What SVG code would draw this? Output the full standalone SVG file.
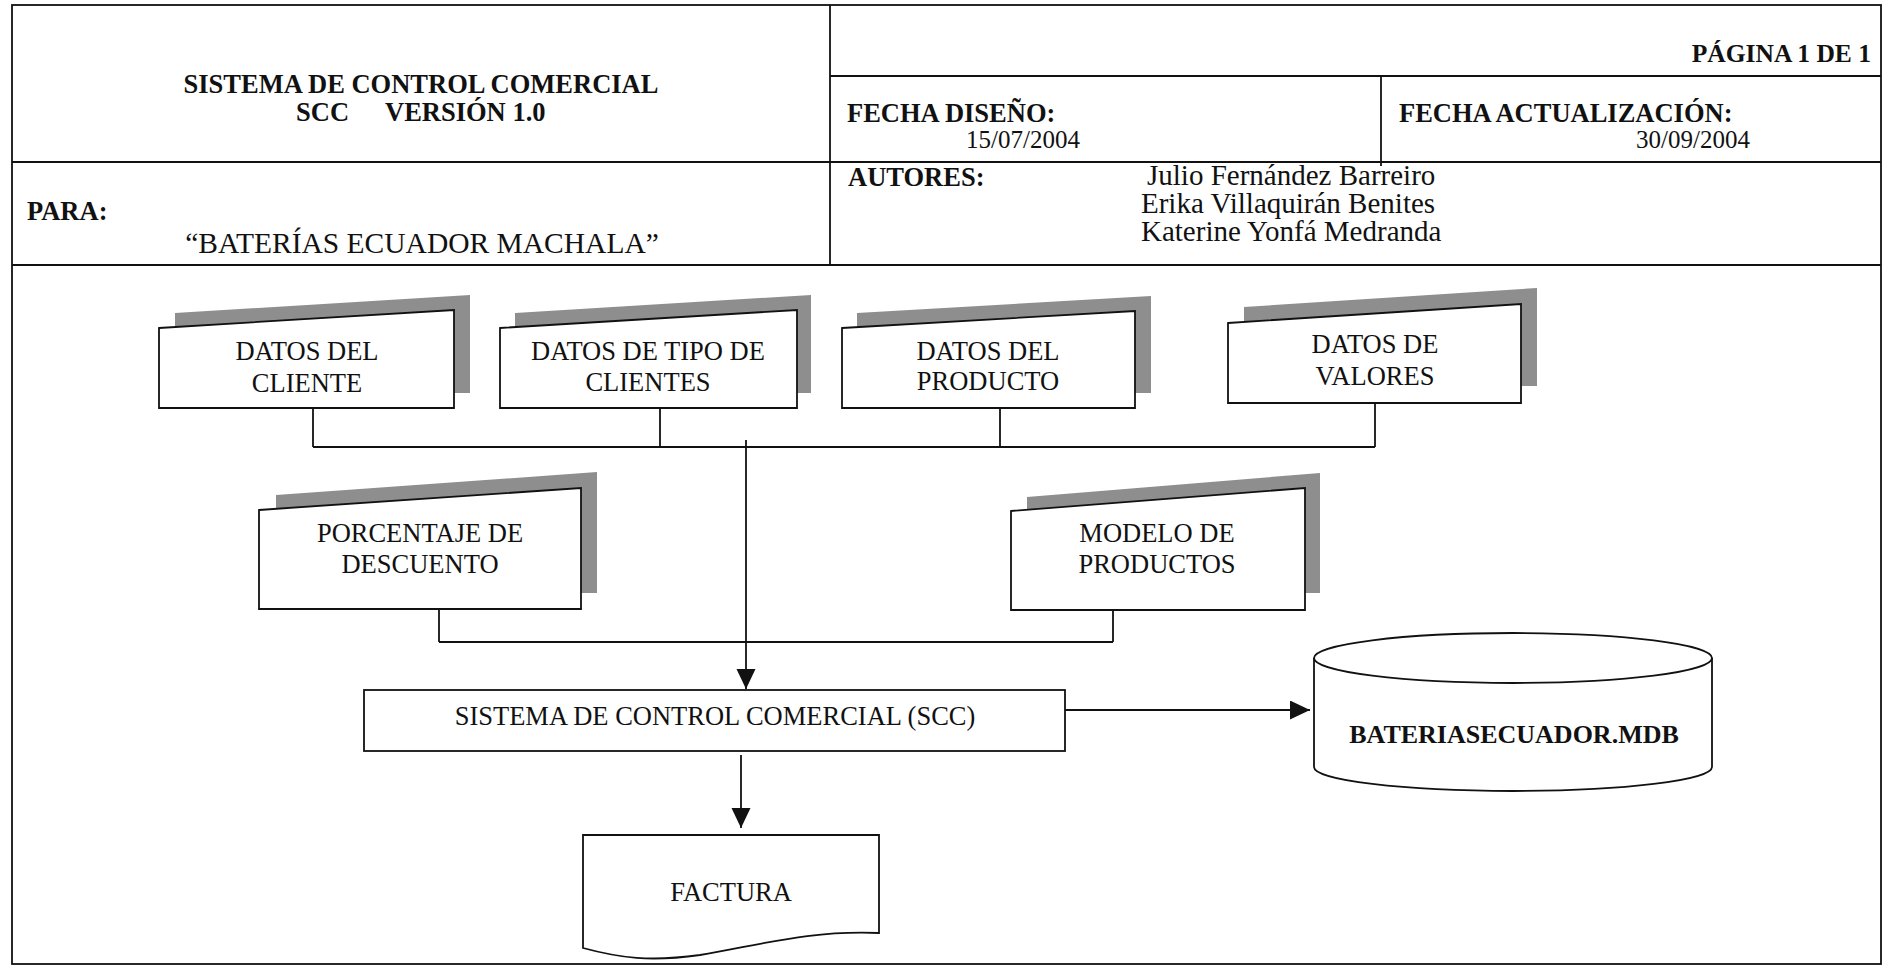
<svg xmlns="http://www.w3.org/2000/svg" width="1888" height="969" viewBox="0 0 1888 969">
<defs>
<style>
.ln{stroke:#111;stroke-width:1.8;fill:none}
.hb{font-family:"Liberation Serif","Times New Roman",serif;font-weight:bold;font-size:26.5px;fill:#111}
.hr{font-family:"Liberation Serif","Times New Roman",serif;font-size:25px;fill:#111}
.au{font-family:"Liberation Serif","Times New Roman",serif;font-size:29px;fill:#111}
.lb{font-family:"Liberation Serif","Times New Roman",serif;font-size:26.5px;fill:#111;text-anchor:middle}
.box{fill:#fff;stroke:#111;stroke-width:1.8}
.sh{fill:#8e8e8e;stroke:none}
.cn{stroke:#111;stroke-width:1.8;fill:none}
</style>
<marker id="arr" markerUnits="userSpaceOnUse" markerWidth="21" markerHeight="20" refX="20" refY="9.5" orient="auto">
<path d="M0,0 L20,9.5 L0,19 Z" fill="#111"/>
</marker>
</defs>
<rect width="1888" height="969" fill="#fff"/>
<g id="header">
<rect class="ln" x="12" y="5" width="1869" height="959"/>
<line class="ln" x1="830" y1="5" x2="830" y2="265"/>
<line class="ln" x1="830" y1="76" x2="1881" y2="76"/>
<line class="ln" x1="1381" y1="76" x2="1381" y2="166"/>
<line class="ln" x1="12" y1="162" x2="1881" y2="162"/>
<line class="ln" x1="12" y1="265" x2="1881" y2="265"/>
<text class="hb" x="421" y="93" text-anchor="middle">SISTEMA DE CONTROL COMERCIAL</text>
<text class="hb" y="121"><tspan x="296">SCC</tspan><tspan x="385">VERSIÓN 1.0</tspan></text>
<text class="hb" x="1871" y="62" text-anchor="end" style="font-size:25.5px">PÁGINA 1 DE 1</text>
<text class="hb" x="847" y="122">FECHA DISEÑO:</text>
<text class="hr" x="966" y="148">15/07/2004</text>
<text class="hb" x="1399" y="122">FECHA ACTUALIZACIÓN:</text>
<text class="hr" x="1636" y="148">30/09/2004</text>
<text class="hb" x="27" y="220">PARA:</text>
<text class="au" x="422" y="253" text-anchor="middle" style="font-size:29.5px">“BATERÍAS ECUADOR MACHALA”</text>
<text class="hb" x="848" y="186">AUTORES:</text>
<text class="au" x="1147" y="185">Julio Fernández Barreiro</text>
<text class="au" x="1141" y="213">Erika Villaquirán Benites</text>
<text class="au" x="1141" y="241">Katerine Yonfá Medranda</text>
</g>
<g id="connectors">
<line class="cn" x1="313" y1="408" x2="313" y2="447"/>
<line class="cn" x1="660" y1="408" x2="660" y2="447"/>
<line class="cn" x1="1000" y1="408" x2="1000" y2="447"/>
<line class="cn" x1="1375" y1="403" x2="1375" y2="447"/>
<line class="cn" x1="313" y1="447" x2="1375" y2="447"/>
<line class="cn" x1="746" y1="440" x2="746" y2="689" marker-end="url(#arr)"/>
<line class="cn" x1="439" y1="609" x2="439" y2="642"/>
<line class="cn" x1="1113" y1="610" x2="1113" y2="642"/>
<line class="cn" x1="439" y1="642" x2="1113" y2="642"/>
<line class="cn" x1="741" y1="755" x2="741" y2="828" marker-end="url(#arr)"/>
<line class="cn" x1="1062" y1="710" x2="1310" y2="710" marker-end="url(#arr)"/>
</g>
<g id="datos-cliente">
<polygon class="sh" points="175,313 470,295 470,393 175,393"/>
<polygon class="box" points="159,328 454,310 454,408 159,408"/>
<text class="lb" x="307" y="360">DATOS DEL</text>
<text class="lb" x="307" y="392">CLIENTE</text>
</g>
<g id="datos-tipo-clientes">
<polygon class="sh" points="515,313 811,295 811,393 515,393"/>
<polygon class="box" points="500,328 797,310 797,408 500,408"/>
<text class="lb" x="648" y="360">DATOS DE TIPO DE</text>
<text class="lb" x="648" y="391">CLIENTES</text>
</g>
<g id="datos-producto">
<polygon class="sh" points="857,313 1151,296 1151,393 857,393"/>
<polygon class="box" points="842,328 1135,311 1135,408 842,408"/>
<text class="lb" x="988" y="360">DATOS DEL</text>
<text class="lb" x="988" y="390">PRODUCTO</text>
</g>
<g id="datos-valores">
<polygon class="sh" points="1244,307 1537,288 1537,386 1244,386"/>
<polygon class="box" points="1228,323 1521,304 1521,403 1228,403"/>
<text class="lb" x="1375" y="353">DATOS DE</text>
<text class="lb" x="1375" y="385">VALORES</text>
</g>
<g id="porcentaje-descuento">
<polygon class="sh" points="276,495 597,472 597,593 276,593"/>
<polygon class="box" points="259,510 581,488 581,609 259,609"/>
<text class="lb" x="420" y="542">PORCENTAJE DE</text>
<text class="lb" x="420" y="573">DESCUENTO</text>
</g>
<g id="modelo-productos">
<polygon class="sh" points="1027,497 1320,473 1320,593 1027,593"/>
<polygon class="box" points="1011,511 1305,488 1305,610 1011,610"/>
<text class="lb" x="1157" y="542">MODELO DE</text>
<text class="lb" x="1157" y="573">PRODUCTOS</text>
</g>
<g id="scc">
<rect class="box" x="364" y="690" width="701" height="61"/>
<text class="lb" x="715" y="725">SISTEMA DE CONTROL COMERCIAL (SCC)</text>
</g>
<g id="database">
<path class="box" d="M1314,658 L1314,767 A199,24 0 0 0 1712,767 L1712,658"/>
<ellipse class="box" cx="1513" cy="658" rx="199" ry="25"/>
<text class="lb" x="1514" y="743" style="font-weight:bold;font-size:26px">BATERIASECUADOR.MDB</text>
</g>
<g id="factura">
<path class="box" d="M583,835 L879,835 L879,933 C810,930 760,945 700,955 C650,962 620,958 583,948 Z"/>
<text class="lb" x="731" y="901">FACTURA</text>
</g>
</svg>
